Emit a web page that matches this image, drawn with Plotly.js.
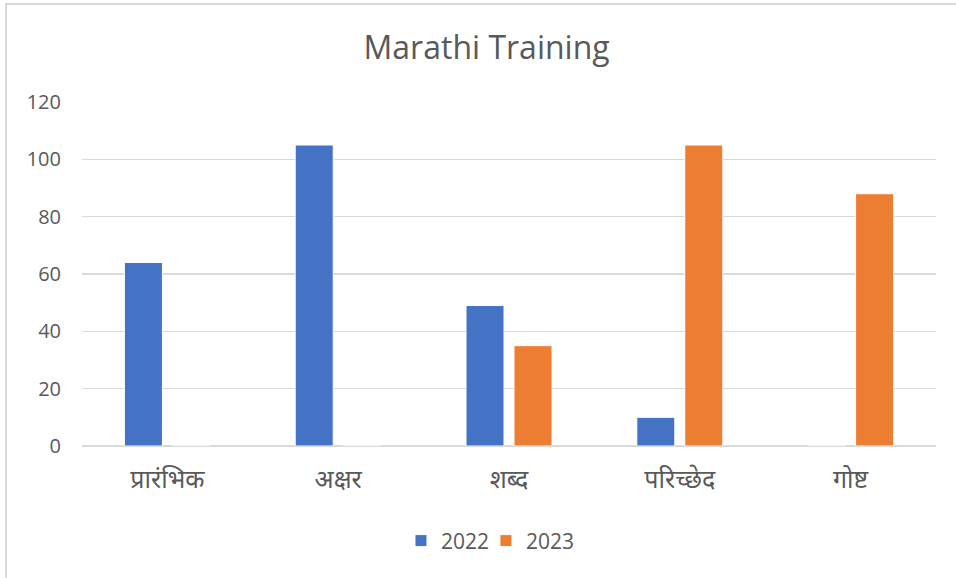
<!DOCTYPE html>
<html>
<head>
<meta charset="utf-8">
<script src="https://cdn.plot.ly/plotly-3.0.1.min.js"></script>
<style>
html,body{margin:0;padding:0;background:#fff;}
#wrap{position:relative;width:956px;height:578px;overflow:hidden;}
#chart{width:956px;height:578px;}
#frame{position:absolute;left:5px;top:3px;right:-5px;bottom:-5px;border-left:2px solid #d9d9d9;border-top:2px solid #d9d9d9;pointer-events:none;}
</style>
</head>
<body>
<div id="wrap"><div id="chart"></div><div id="frame"></div></div>
<script>
const categories = ["प्रारंभिक", "अक्षर", "शब्द", "परिच्छेद", "गोष्ट"];
const seriesNames = ["2022", "2023"];
const values2022 = [64, 105, 49, 10, 0];
const values2023 = [0, 0, 35, 105, 88];
const yTicks = [0, 20, 40, 60, 80, 100, 120];

const fontFam = "'Open Sans', 'Noto Sans', sans-serif";
const traces = [
  {type: "bar", name: seriesNames[0], x: categories, y: values2022, legend: "legend",
   marker: {color: "#4472c4", line: {color: "#ffffff", width: 1}}},
  {type: "bar", name: seriesNames[1], x: categories, y: values2023, legend: "legend2",
   marker: {color: "#ed7d31", line: {color: "#ffffff", width: 1}}}
];
const legendBase = {orientation: "h", xanchor: "left", y: -0.276, yanchor: "middle",
                    bgcolor: "rgba(0,0,0,0)",
                    font: {size: 21, color: "#595959"}, itemwidth: 30};
const layout = {
  width: 956, height: 578,
  margin: {l: 82, r: 20, t: 102, b: 132},
  paper_bgcolor: "#ffffff", plot_bgcolor: "#ffffff",
  font: {family: fontFam, color: "#595959"},
  title: {text: "Marathi Training", x: 0.509, xanchor: "center", y: 0.917, yanchor: "middle",
          font: {size: 32, color: "#595959", family: fontFam}},
  barmode: "group", bargap: 0.438, bargroupgap: 0.208,
  xaxis: {type: "category", showgrid: false, zeroline: false, showline: false,
          tickfont: {size: 25, color: "#595959"}, ticks: "", ticklen: 0, ticklabelstandoff: 16},
  yaxis: {range: [0, 120], tickvals: yTicks, ticktext: yTicks.map(String),
          showgrid: true, gridcolor: "#d9d9d9", gridwidth: 1.5, zeroline: true,
          zerolinecolor: "#d9d9d9", zerolinewidth: 1.5, showline: false,
          tickfont: {size: 20, color: "#595959"}, ticks: "", ticklen: 0,
          ticklabelstandoff: 20, automargin: false},
  showlegend: true,
  legend: Object.assign({}, legendBase, {x: 0.3735}),
  legend2: Object.assign({}, legendBase, {x: 0.473}),
};
Plotly.newPlot("chart", traces, layout, {displayModeBar: false, staticPlot: true});
</script>
</body>
</html>
